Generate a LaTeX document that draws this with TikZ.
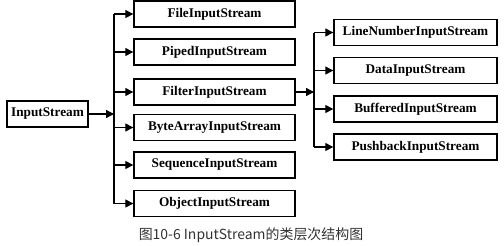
\documentclass[tikz,border=0pt]{standalone}
\usepackage{fontspec}
\setmainfont{Liberation Serif}
\newfontfamily\cjk{Noto Sans CJK SC}
\usepackage{tikz}
\usetikzlibrary{arrows.meta}
\definecolor{captiongray}{HTML}{333333}

\begin{document}
\begin{tikzpicture}[x=1bp,y=-1bp,>={Triangle[length=8bp,width=8bp]},line width=1.3bp,
  every node/.style={font=\fontsize{13.3}{15}\selectfont\bfseries},
  classbox/.style={draw,rectangle,line width=1.4bp,inner sep=2pt,minimum height=26bp}]
\useasboundingbox (0,0) rectangle (504,245);
% base class
\node[classbox,minimum width=81bp] (IS) at (47.5,114) {InputStream};
\coordinate (trunkA) at (114,114);
% direct subclasses
\node[classbox,minimum width=161bp] (FIS) at (214.5,14) {FileInputStream};
\node[classbox,minimum width=161bp] (PIS) at (214.5,52) {PipedInputStream};
\node[classbox,minimum width=161bp] (FtIS) at (214.5,92) {FilterInputStream};
\node[classbox,minimum width=161bp] (BAIS) at (214.5,127.5) {ByteArrayInputStream};
\node[classbox,minimum width=161bp] (SIS) at (214.5,165) {SequenceInputStream};
\node[classbox,minimum width=161bp] (OIS) at (214.5,203.5) {ObjectInputStream};
\coordinate (trunkB) at (314,92);
% filter subclasses
\node[classbox,minimum width=163bp] (LNIS) at (415.5,32.5) {LineNumberInputStream};
\node[classbox,minimum width=163bp] (DIS) at (415.5,70.5) {DataInputStream};
\node[classbox,minimum width=163bp] (BIS) at (415.5,109) {BufferedInputStream};
\node[classbox,minimum width=163bp] (PbIS) at (415.5,147) {PushbackInputStream};
% connectors
\draw[->] (IS) -- (trunkA);
\draw (trunkA |- FIS.west) -- (trunkA |- OIS.west);
\foreach \n in {FIS,PIS,FtIS,BAIS,SIS,OIS}
  \draw[->] (trunkA |- \n.west) -- (\n.west);
\draw[->] (FtIS) -- (trunkB);
\draw (trunkB |- LNIS.west) -- (trunkB |- PbIS.west);
\foreach \n in {LNIS,DIS,BIS,PbIS}
  \draw[->] (trunkB |- \n.west) -- (\n.west);
% caption
\node[font=\cjk\fontsize{14}{16}\selectfont,text=captiongray] (cap) at (251,235) {图10-6 InputStream的类层次结构图};
\end{tikzpicture}
\end{document}
